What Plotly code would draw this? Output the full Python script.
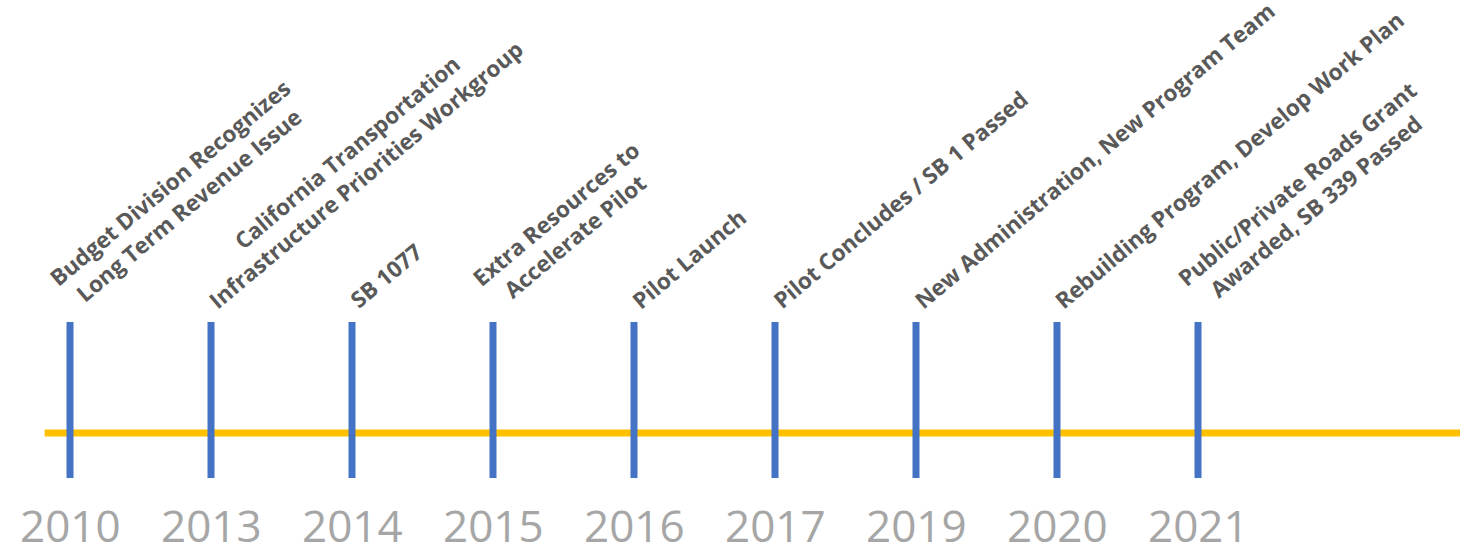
import math
import plotly.graph_objects as go

# ---- data ----
years = ["2010", "2013", "2014", "2015", "2016", "2017", "2019", "2020", "2021"]
events = [
    "Budget Division Recognizes<br>Long Term Revenue Issue",
    "California Transportation<br>Infrastructure Priorities Workgroup",
    "SB 1077",
    "Extra Resources to<br>Accelerate Pilot",
    "Pilot Launch",
    "Pilot Concludes / SB 1 Passed",
    "New Administration, New Program Team",
    "Rebuilding Program, Develop Work Plan",
    "Public/Private Roads Grant<br>Awarded, SB 339 Passed",
]

# ---- style ----
W, H = 1460, 546
BLUE = "#4472C4"
GOLD = "#FFC000"
LABEL = "#595959"
YEARCOL = "#A6A6A6"
ANGLE = 40
LFONT = 22.5

pos = list(range(len(years)))

# timeline vertical scale (pixel-like units; 0 = timeline)
tick_low, tick_high = -45, 111
label_base = 115
year_y = -92

fig = go.Figure()

# yellow timeline
fig.add_trace(go.Scatter(
    x=[-0.18, 10.5], y=[0, 0], mode="lines",
    line=dict(color=GOLD, width=7), hoverinfo="skip", showlegend=False))

# blue event ticks
tx, ty = [], []
for p in pos:
    tx += [p, p, None]
    ty += [tick_low, tick_high, None]
fig.add_trace(go.Scatter(
    x=tx, y=ty, mode="lines",
    line=dict(color=BLUE, width=7), hoverinfo="skip", showlegend=False))

annotations = []
for p, txt in zip(pos, events):
    n = txt.count("<br>") + 1
    box_h = n * 1.3 * LFONT + 2
    xs = 9 - box_h * math.sin(math.radians(ANGLE))
    annotations.append(dict(
        x=p, y=label_base, xref="x", yref="y", text=txt, showarrow=False,
        textangle=-ANGLE, xanchor="left", yanchor="bottom", xshift=xs,
        align="center",
        font=dict(family="Open Sans", size=LFONT, color=LABEL, weight=700)))

for p, yr in zip(pos, years):
    annotations.append(dict(
        x=p, y=year_y, xref="x", yref="y", text=yr, showarrow=False,
        xanchor="center", yanchor="middle",
        font=dict(family="Open Sans", size=44, color=YEARCOL)))

fig.update_layout(
    width=W, height=H,
    margin=dict(l=0, r=0, t=0, b=0),
    paper_bgcolor="white", plot_bgcolor="white",
    showlegend=False,
    annotations=annotations,
    xaxis=dict(range=[-70 / 141, (W - 70) / 141], visible=False, fixedrange=True),
    yaxis=dict(range=[433 - H, 433], visible=False, fixedrange=True),
)

fig.write_html(
    "out.html",
    config={"displayModeBar": False},
    post_script="document.body.style.margin='0';document.body.style.overflow='hidden';",
)
